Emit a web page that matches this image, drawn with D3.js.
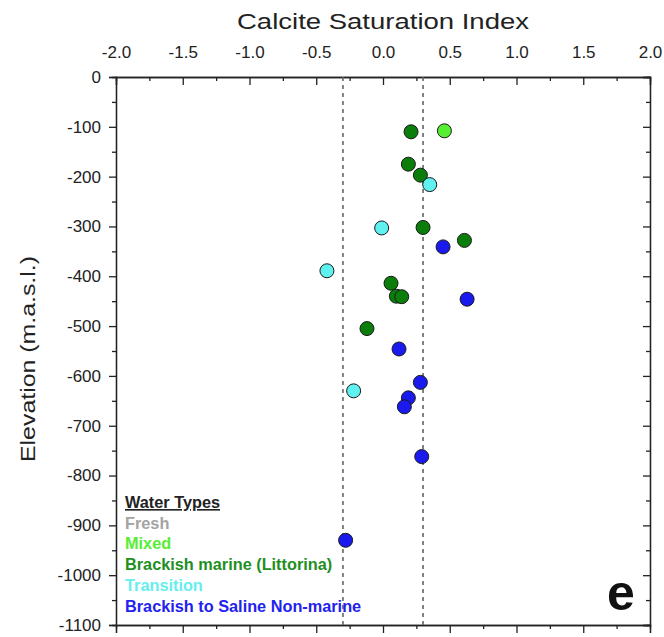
<!DOCTYPE html>
<html>
<head>
<meta charset="utf-8">
<script src="https://cdn.jsdelivr.net/npm/d3@7"></script>
<style>
  body { margin: 0; background: #fff; }
  svg { font-family: "Liberation Sans", Arial, sans-serif; }
</style>
</head>
<body>
<script>
// ---------- data ----------
const waterTypes = ["Fresh", "Mixed", "Brackish marine (Littorina)", "Transition", "Brackish to Saline Non-marine"];
const typeText   = ["#a3a3a3", "#55ee33", "#1f8f1f", "#66eeee", "#2222ee"];
const typeFill   = ["#a3a3a3", "#55ee33", "#0b7d0b", "#5ff0f0", "#1a1aee"];

const mixedSI    = [0.46];
const mixedElev  = [-108];
const littorinaSI   = [0.21, 0.19, 0.28, 0.30, 0.61, 0.06, 0.10, 0.14, -0.12];
const littorinaElev = [-110, -175, -197, -302, -328, -414, -440, -441, -505];
const transitionSI   = [0.35, -0.01, -0.42, -0.22];
const transitionElev = [-216, -303, -389, -630];
const nonMarineSI   = [0.45, 0.63, 0.12, 0.28, 0.19, 0.16, 0.29, -0.28];
const nonMarineElev = [-341, -446, -546, -613, -644, -662, -762, -930];

const xTicks = [-2, -1.5, -1, -0.5, 0, 0.5, 1, 1.5, 2];
const yTicks = d3.range(0, -1101, -100);
const refLines = [-0.3, 0.3];

// ---------- layout ----------
const W = 664, H = 637;
const margin = {top: 77, right: 14, bottom: 12, left: 116},
      width = W - margin.left - margin.right,
      height = H - margin.top - margin.bottom;

const svg = d3.select("body").append("svg")
    .attr("width", W)
    .attr("height", H);

svg.append("rect").attr("width", W).attr("height", H).attr("fill", "#fff");

const g = svg.append("g")
    .attr("transform", "translate(" + margin.left + "," + margin.top + ")");

//--------------SCALES---------------------------------------
const x = d3.scaleLinear().domain([-2, 2]).range([0, width]);
const y = d3.scaleLinear().domain([0, -1100]).range([0, height]);

//--------------AXES----------------------------------------
const fmtX = d => d3.format(".1f")(d).replace("−", "-");

// top: ticks point inward, labels above
const axisTopG = g.append("g")
    .call(d3.axisTop(x).tickValues(xTicks).tickSize(-8).tickPadding(19).tickFormat(fmtX));
g.append("g")
    .call(d3.axisTop(x).tickValues(d3.range(-1.75, 2, 0.5)).tickSize(-4).tickFormat(""));

// bottom: ticks point out, no labels
g.append("g").attr("transform", "translate(0," + height + ")")
    .call(d3.axisBottom(x).tickValues(xTicks).tickSize(8).tickFormat(""));
g.append("g").attr("transform", "translate(0," + height + ")")
    .call(d3.axisBottom(x).tickValues(d3.range(-1.75, 2, 0.5)).tickSize(4).tickFormat(""));

// left: ticks out, labels
const axisLeftG = g.append("g")
    .call(d3.axisLeft(y).tickValues(yTicks).tickSize(7).tickPadding(8)
      .tickFormat(d => d3.format("d")(d).replace("−", "-")));
g.append("g")
    .call(d3.axisLeft(y).tickValues(d3.range(-50, -1100, -100)).tickSize(4).tickFormat(""));

// right: ticks point inward
g.append("g").attr("transform", "translate(" + width + ",0)")
    .call(d3.axisRight(y).tickValues(yTicks).tickSize(-7).tickFormat(""));
g.append("g").attr("transform", "translate(" + width + ",0)")
    .call(d3.axisRight(y).tickValues(d3.range(-50, -1100, -100)).tickSize(-4).tickFormat(""));

g.selectAll(".domain").attr("stroke", "#222").attr("stroke-width", 1.3);
g.selectAll(".tick line").attr("stroke", "#222").attr("stroke-width", 1.3);
g.selectAll(".tick text")
    .attr("font-family", "Liberation Sans, Arial, sans-serif")
    .attr("font-size", 17)
    .attr("fill", "#222");

// titles
svg.append("text")
    .attr("x", margin.left + x(0)).attr("y", 29)
    .attr("text-anchor", "middle")
    .attr("font-size", 22)
    .attr("fill", "#222")
    .attr("textLength", 292).attr("lengthAdjust", "spacingAndGlyphs")
    .text("Calcite Saturation Index");

svg.append("text")
    .attr("transform", "translate(35,359) rotate(-90)")
    .attr("text-anchor", "middle")
    .attr("font-size", 21)
    .attr("fill", "#222")
    .attr("textLength", 206).attr("lengthAdjust", "spacingAndGlyphs")
    .text("Elevation (m.a.s.l.)");

// ---------- reference lines ----------
g.selectAll("line.ref")
  .data(refLines)
  .enter().append("line")
    .attr("class", "ref")
    .attr("x1", d => x(d)).attr("x2", d => x(d))
    .attr("y1", 0).attr("y2", height)
    .attr("stroke", "#666")
    .attr("stroke-width", 1.6)
    .attr("stroke-dasharray", "4,4");

// ---------- points ----------
const series = [
  {si: mixedSI, elev: mixedElev, type: 1},
  {si: littorinaSI, elev: littorinaElev, type: 2},
  {si: transitionSI, elev: transitionElev, type: 3},
  {si: nonMarineSI, elev: nonMarineElev, type: 4}
];

series.forEach(s => {
  g.append("g").selectAll("circle")
    .data(s.si.map((v, i) => ({si: v, elev: s.elev[i]})))
    .enter().append("circle")
      .attr("cx", d => x(d.si))
      .attr("cy", d => y(d.elev))
      .attr("r", 7)
      .attr("fill", typeFill[s.type])
      .attr("stroke", "#1a1a1a")
      .attr("stroke-width", 1);
});

// ---------- legend ----------
const legend = svg.append("g").attr("transform", "translate(125,508)");
legend.append("text")
    .attr("font-size", 16.3).attr("font-weight", "bold")
    .attr("fill", "#222")
    .attr("text-decoration", "underline")
    .text("Water Types");
legend.selectAll("text.item")
  .data(waterTypes)
  .enter().append("text")
    .attr("class", "item")
    .attr("y", (d, i) => (i + 1) * 20.7)
    .attr("font-size", 16.3).attr("font-weight", "bold")
    .attr("fill", (d, i) => typeText[i])
    .text(d => d);

// panel letter
svg.append("text")
    .attr("x", 621).attr("y", 610)
    .attr("text-anchor", "middle")
    .attr("font-size", 50).attr("font-weight", "bold")
    .attr("fill", "#111")
    .text("e");
</script>
</body>
</html>
